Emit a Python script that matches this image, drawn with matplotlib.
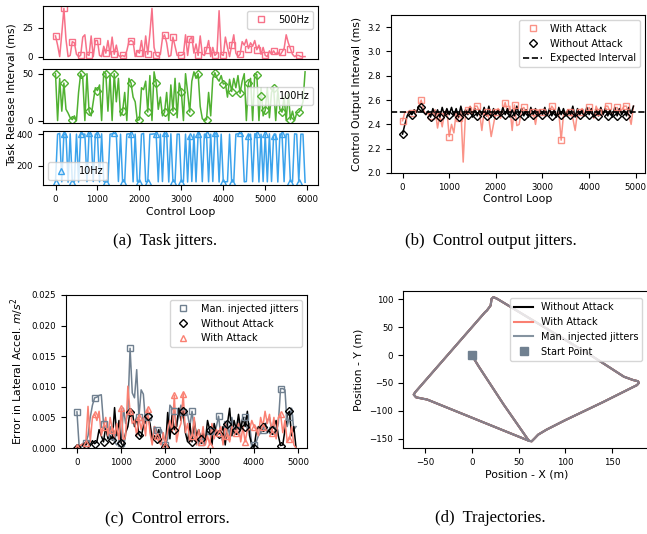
import matplotlib
matplotlib.use('Agg')
import matplotlib.pyplot as plt
from matplotlib.ticker import FormatStrFormatter

W, H = 647, 534

# (a) task release intervals, sampled every 50 control loops
loop_a = list(range(0, 6000, 50))
hz500 = [18, 10, 0, 20, 42, 15, 0, 1, 13, 12,
         2, 0, 1, 17, 19, 2, 1, 18, 0, 14,
         14, 1, 0, 9, 3, 14, 2, 17, 2, 10,
         1, 0, 1, 0, 5, 13, 14, 13, 0, 5,
         3, 14, 0, 18, 2, 20, 42, 8, 1, 0,
         2, 16, 19, 12, 0, 1, 17, 9, 1, 1,
         1, 2, 19, 1, 15, 17, 3, 11, 1, 18,
         2, 1, 6, 14, 0, 8, 1, 3, 40, 2,
         1, 17, 8, 0, 10, 19, 3, 0, 2, 13,
         10, 15, 7, 12, 9, 14, 6, 10, 2, 8,
         1, 0, 5, 2, 5, 2, 4, 1, 4, 7,
         19, 12, 7, 2, 0, 1, 1, 0, 0, 0]
hz100 = [50, 0, 45, 10, 40, 12, 8, 3, 1, 5,
         0, 30, 50, 45, 0, 50, 10, 5, 20, 35,
         32, 38, 0, 52, 50, 10, 48, 0, 50, 20,
         45, 5, 10, 30, 0, 45, 40, 25, 20, 0,
         1, 35, 33, 42, 9, 48, 0, 52, 40, 12,
         25, 5, 9, 30, 0, 38, 10, 45, 3, 40,
         31, 0, 50, 30, 9, 42, 52, 45, 50, 15,
         2, 0, 1, 30, 5, 45, 51, 45, 42, 48,
         39, 40, 25, 44, 31, 45, 35, 48, 29, 42,
         50, 0, 40, 45, 0, 50, 49, 0, 35, 5,
         11, 35, 3, 30, 35, 0, 32, 12, 9, 25,
         0, 30, 1, 10, 0, 8, 9, 12, 20, 52]
hz10 = [100, 400, 405, 98, 400, 400, 96, 402, 100, 98,
        400, 97, 402, 400, 400, 99, 405, 400, 100, 400,
        400, 98, 402, 100, 97, 100, 400, 402, 405, 400,
        100, 400, 99, 100, 400, 402, 400, 98, 400, 100,
        97, 400, 405, 99, 100, 400, 400, 402, 400, 98,
        400, 100, 405, 400, 97, 402, 100, 99, 400, 400,
        98, 100, 400, 97, 390, 100, 400, 98, 402, 400,
        99, 400, 400, 98, 400, 100, 405, 400, 97, 400,
        100, 98, 99, 400, 97, 100, 400, 402, 405, 400,
        98, 100, 390, 400, 99, 402, 400, 97, 400, 100,
        400, 98, 402, 100, 390, 400, 97, 400, 402, 99,
        400, 400, 100, 98, 402, 400, 96, 400, 400, 95]

# (b) control output intervals (ms)
loop_b = list(range(0, 5000, 50))
out_attack = [2.43, 2.50, 2.50, 2.51, 2.49, 2.52, 2.50, 2.55, 2.60, 2.52,
              2.48, 2.50, 2.47, 2.50, 2.52, 2.37, 2.47, 2.38, 2.50, 2.52,
              2.30, 2.40, 2.33, 2.50, 2.45, 2.52, 2.09, 2.50, 2.52, 2.55,
              2.48, 2.55, 2.55, 2.50, 2.35, 2.52, 2.50, 2.45, 2.30, 2.40,
              2.50, 2.53, 2.45, 2.52, 2.58, 2.50, 2.55, 2.35, 2.56, 2.39,
              2.40, 2.52, 2.54, 2.50, 2.48, 2.52, 2.50, 2.40, 2.52, 2.50,
              2.50, 2.53, 2.48, 2.50, 2.55, 2.52, 2.48, 2.50, 2.27, 2.48,
              2.50, 2.52, 2.50, 2.45, 2.35, 2.50, 2.50, 2.53, 2.48, 2.52,
              2.54, 2.50, 2.45, 2.55, 2.50, 2.52, 2.48, 2.55, 2.55, 2.50,
              2.48, 2.53, 2.54, 2.50, 2.52, 2.55, 2.55, 2.48, 2.40, 2.55]
out_normal = [2.32, 2.40, 2.47, 2.51, 2.48, 2.52, 2.50, 2.55, 2.54, 2.50,
              2.48, 2.51, 2.46, 2.53, 2.47, 2.52, 2.46, 2.54, 2.47, 2.53,
              2.48, 2.54, 2.47, 2.53, 2.46, 2.55, 2.47, 2.52, 2.48, 2.54,
              2.46, 2.53, 2.47, 2.52, 2.48, 2.54, 2.47, 2.55, 2.46, 2.53,
              2.48, 2.52, 2.47, 2.54, 2.48, 2.53, 2.46, 2.52, 2.47, 2.55,
              2.48, 2.53, 2.47, 2.52, 2.46, 2.54, 2.48, 2.53, 2.47, 2.52,
              2.48, 2.54, 2.47, 2.53, 2.47, 2.52, 2.46, 2.54, 2.48, 2.53,
              2.47, 2.52, 2.48, 2.55, 2.46, 2.53, 2.48, 2.52, 2.47, 2.54,
              2.48, 2.53, 2.46, 2.52, 2.47, 2.54, 2.48, 2.53, 2.47, 2.52,
              2.46, 2.54, 2.47, 2.53, 2.48, 2.52, 2.47, 2.54, 2.49, 2.55]
expected_interval = 2.5

# (c) lateral acceleration error
err_jitter = [0.0059, 0.0002, 0.0003, 0.0005, 0.0008, 0.0020, 0.0050, 0.0070, 0.0082, 0.0083,
              0.0086, 0.0087, 0.0040, 0.0030, 0.0020, 0.0035, 0.0020, 0.0010, 0.0005, 0.0010,
              0.0008, 0.0065, 0.0040, 0.0060, 0.0163, 0.0090, 0.0082, 0.0128, 0.0050, 0.0095,
              0.0088, 0.0040, 0.0050, 0.0035, 0.0015, 0.0035, 0.0030, 0.0010, 0.0030, 0.0020,
              0.0005, 0.0015, 0.0070, 0.0065, 0.0060, 0.0035, 0.0055, 0.0070, 0.0059, 0.0060,
              0.0055, 0.0035, 0.0060, 0.0030, 0.0010, 0.0015, 0.0010, 0.0020, 0.0015, 0.0025,
              0.0028, 0.0015, 0.0025, 0.0035, 0.0052, 0.0020, 0.0010, 0.0035, 0.0040, 0.0020,
              0.0050, 0.0030, 0.0030, 0.0045, 0.0035, 0.0050, 0.0050, 0.0030, 0.0040, 0.0005,
              0.0005, 0.0010, 0.0020, 0.0025, 0.0030, 0.0035, 0.0045, 0.0050, 0.0030, 0.0035,
              0.0025, 0.0040, 0.0097, 0.0097, 0.0095, 0.0035, 0.0050, 0.0065, 0.0030, 0.0035]
err_normal = [0.0000, 0.0002, 0.0005, 0.0008, 0.0005, 0.0010, 0.0005, 0.0012, 0.0007, 0.0010,
              0.0030, 0.0020, 0.0010, 0.0035, 0.0015, 0.0020, 0.0013, 0.0066, 0.0020, 0.0045,
              0.0008, 0.0002, 0.0025, 0.0035, 0.0059, 0.0060, 0.0035, 0.0050, 0.0022, 0.0018,
              0.0035, 0.0045, 0.0053, 0.0040, 0.0015, 0.0020, 0.0015, 0.0030, 0.0010, 0.0005,
              0.0001, 0.0058, 0.0015, 0.0055, 0.0030, 0.0035, 0.0065, 0.0045, 0.0060, 0.0025,
              0.0010, 0.0040, 0.0010, 0.0045, 0.0020, 0.0030, 0.0015, 0.0025, 0.0010, 0.0045,
              0.0030, 0.0005, 0.0040, 0.0025, 0.0023, 0.0025, 0.0035, 0.0005, 0.0040, 0.0065,
              0.0020, 0.0045, 0.0030, 0.0055, 0.0030, 0.0050, 0.0035, 0.0060, 0.0020, 0.0005,
              0.0000, 0.0025, 0.0035, 0.0030, 0.0035, 0.0040, 0.0025, 0.0030, 0.0030, 0.0035,
              0.0045, 0.0020, 0.0004, 0.0005, 0.0030, 0.0055, 0.0060, 0.0020, 0.0035, 0.0000]
err_attack = [0.0002, 0.0003, 0.0005, 0.0008, 0.0008, 0.0068, 0.0010, 0.0050, 0.0056, 0.0045,
              0.0060, 0.0020, 0.0035, 0.0050, 0.0020, 0.0050, 0.0030, 0.0015, 0.0040, 0.0010,
              0.0065, 0.0010, 0.0020, 0.0101, 0.0060, 0.0040, 0.0045, 0.0020, 0.0050, 0.0030,
              0.0050, 0.0020, 0.0064, 0.0025, 0.0005, 0.0035, 0.0020, 0.0010, 0.0005, 0.0025,
              0.0005, 0.0030, 0.0045, 0.0025, 0.0086, 0.0010, 0.0030, 0.0040, 0.0089, 0.0025,
              0.0040, 0.0010, 0.0020, 0.0050, 0.0005, 0.0030, 0.0010, 0.0035, 0.0005, 0.0020,
              0.0005, 0.0040, 0.0015, 0.0030, 0.0025, 0.0035, 0.0005, 0.0040, 0.0020, 0.0010,
              0.0035, 0.0030, 0.0025, 0.0040, 0.0010, 0.0035, 0.0010, 0.0030, 0.0030, 0.0045,
              0.0035, 0.0030, 0.0020, 0.0050, 0.0035, 0.0060, 0.0040, 0.0055, 0.0025, 0.0050,
              0.0015, 0.0050, 0.0056, 0.0025, 0.0045, 0.0010, 0.0015, 0.0035, 0.0005, 0.0000]

# (d) vehicle trajectory (m)
traj_x = [0, 3, 7, 34, 61, 64, 67, 71, 80, 100, 140, 177, 179, 178, 173, 163,
          127, 27, 23, 21, 20, 16, 14, -61, -62.5, -60, -48, 5, 61]
traj_y = [0, -9, -20, -89, -154, -155, -150, -143, -134, -117, -85, -54, -50, -47, -45, -39,
          0, 101, 104, 101, 89, 80, 77, -67, -71, -76, -80, -116, -154]
start_x, start_y = 0, 0

PINK, GREEN, BLUE = '#f77189', '#50b131', '#3ba3ec'
SALMON, SLATE = 'salmon', 'slategray'

LABEL_FS = 7.8
TICK_FS = 6.2
LEG_FS = 7

fig = plt.figure(figsize=(6.47, 5.34), dpi=100)


def add_ax(l, t, r, b):
    return fig.add_axes([l / W, 1 - b / H, (r - l) / W, (b - t) / H])


def hollow(ax, x, y, marker, color, label, ms=4.5, alpha=1.0):
    ax.plot(x[::4], y[::4], linestyle='none', marker=marker, ms=ms,
            mfc='none', mec=color, mew=1.0, alpha=alpha, label=label)


# ---- (a) task jitters ----
a_axes = [add_ax(43, 6, 318, 59), add_ax(43, 69, 318, 123), add_ax(43, 131, 318, 185)]
series_a = [(hz500, PINK, 's', '500Hz', [0, 25], (-2.1, 44.1), 'upper right'),
            (hz100, GREEN, 'D', '100Hz', [0, 50], (-2.6, 55.0), 'center right'),
            (hz10, BLUE, '^', '10Hz', [200, 400], (78, 420), 'lower left')]
for ax, (vals, col, mk, lab, yt, yl, loc) in zip(a_axes, series_a):
    ax.plot(loop_a, vals, color=col, lw=1.1)
    hollow(ax, loop_a, vals, mk, col, lab, ms=4.5 if mk != 'D' else 4.2)
    ax.set_yticks(yt)
    ax.set_ylim(*yl)
    ax.set_xlim(-298, 6258)
    ax.tick_params(labelsize=TICK_FS)
    ax.legend(loc=loc, fontsize=LEG_FS)
for ax in a_axes[:2]:
    ax.tick_params(bottom=False, labelbottom=False)
a_axes[2].set_xticks([0, 1000, 2000, 3000, 4000, 5000, 6000])
a_axes[2].set_xlabel('Control Loop', fontsize=LABEL_FS, labelpad=2)
fig.text(12 / W, 1 - 95 / H, 'Task Release Interval (ms)', rotation=90,
         ha='center', va='center', fontsize=LABEL_FS)

# ---- (b) control output jitters ----
axb = add_ax(391, 15, 645, 173)
axb.plot(loop_b, out_attack, color=SALMON, lw=1.1, alpha=0.85)
axb.plot(loop_b, out_normal, color='black', lw=1.1)
hollow(axb, loop_b, out_attack, 's', SALMON, 'With Attack', ms=5, alpha=0.85)
hollow(axb, loop_b, out_normal, 'D', 'black', 'Without Attack', ms=4.5)
axb.axhline(expected_interval, color='black', ls='--', lw=1.2, label='Expected Interval')
axb.set_ylim(2.0, 3.3)
axb.set_yticks([2.0, 2.2, 2.4, 2.6, 2.8, 3.0, 3.2])
axb.set_xticks([0, 1000, 2000, 3000, 4000, 5000])
axb.tick_params(labelsize=TICK_FS)
axb.set_xlabel('Control Loop', fontsize=LABEL_FS, labelpad=2)
axb.set_ylabel('Control Output Interval (ms)', fontsize=LABEL_FS)
axb.legend(loc='upper right', fontsize=LEG_FS)

# ---- (c) control errors ----
axc = add_ax(66, 295, 307, 448)
axc.plot(loop_b, err_jitter, color=SLATE, lw=1.1)
axc.plot(loop_b, err_normal, color='black', lw=1.1)
axc.plot(loop_b, err_attack, color=SALMON, lw=1.1)
hollow(axc, loop_b, err_jitter, 's', SLATE, 'Man. injected jitters', ms=5)
hollow(axc, loop_b, err_normal, 'D', 'black', 'Without Attack', ms=4.5)
hollow(axc, loop_b, err_attack, '^', SALMON, 'With Attack', ms=5)
axc.set_ylim(0, 0.025)
axc.set_yticks([0, 0.005, 0.010, 0.015, 0.020, 0.025])
axc.yaxis.set_major_formatter(FormatStrFormatter('%.3f'))
axc.set_xticks([0, 1000, 2000, 3000, 4000, 5000])
axc.tick_params(labelsize=TICK_FS)
axc.set_xlabel('Control Loop', fontsize=LABEL_FS, labelpad=2)
axc.set_ylabel('Error in Lateral Accel. $m/s^2$', fontsize=LABEL_FS)
axc.legend(loc='upper right', fontsize=LEG_FS)

# ---- (d) trajectories ----
axd = add_ax(403, 291, 651, 448)
axd.plot(traj_x, traj_y, color='black', lw=1.5, label='Without Attack')
axd.plot(traj_x, traj_y, color=SALMON, lw=1.5, label='With Attack')
axd.plot(traj_x, traj_y, color=SLATE, lw=1.5, alpha=0.85, label='Man. injected jitters')
axd.plot(start_x, start_y, 's', color=SLATE, ms=5.5, ls='none', label='Start Point', zorder=5)
axd.set_xlim(-74, 192)
axd.set_ylim(-167, 115)
axd.set_xticks([-50, 0, 50, 100, 150])
axd.set_yticks([-150, -100, -50, 0, 50, 100])
axd.tick_params(labelsize=TICK_FS)
axd.set_xlabel('Position - X (m)', fontsize=LABEL_FS, labelpad=2)
axd.set_ylabel('Position - Y (m)', fontsize=LABEL_FS)
axd.legend(loc='upper right', fontsize=LEG_FS, bbox_to_anchor=(0.985, 0.985))

# sub-captions
cap = dict(ha='center', va='center', fontsize=12, family='Liberation Serif')
fig.text(165 / W, 1 - 241 / H, '(a)  Task jitters.', **cap)
fig.text(491 / W, 1 - 241 / H, '(b)  Control output jitters.', **cap)
fig.text(167 / W, 1 - 518 / H, '(c)  Control errors.', **cap)
fig.text(490 / W, 1 - 518 / H, '(d)  Trajectories.', **cap)

fig.savefig('out.png', dpi=100)
